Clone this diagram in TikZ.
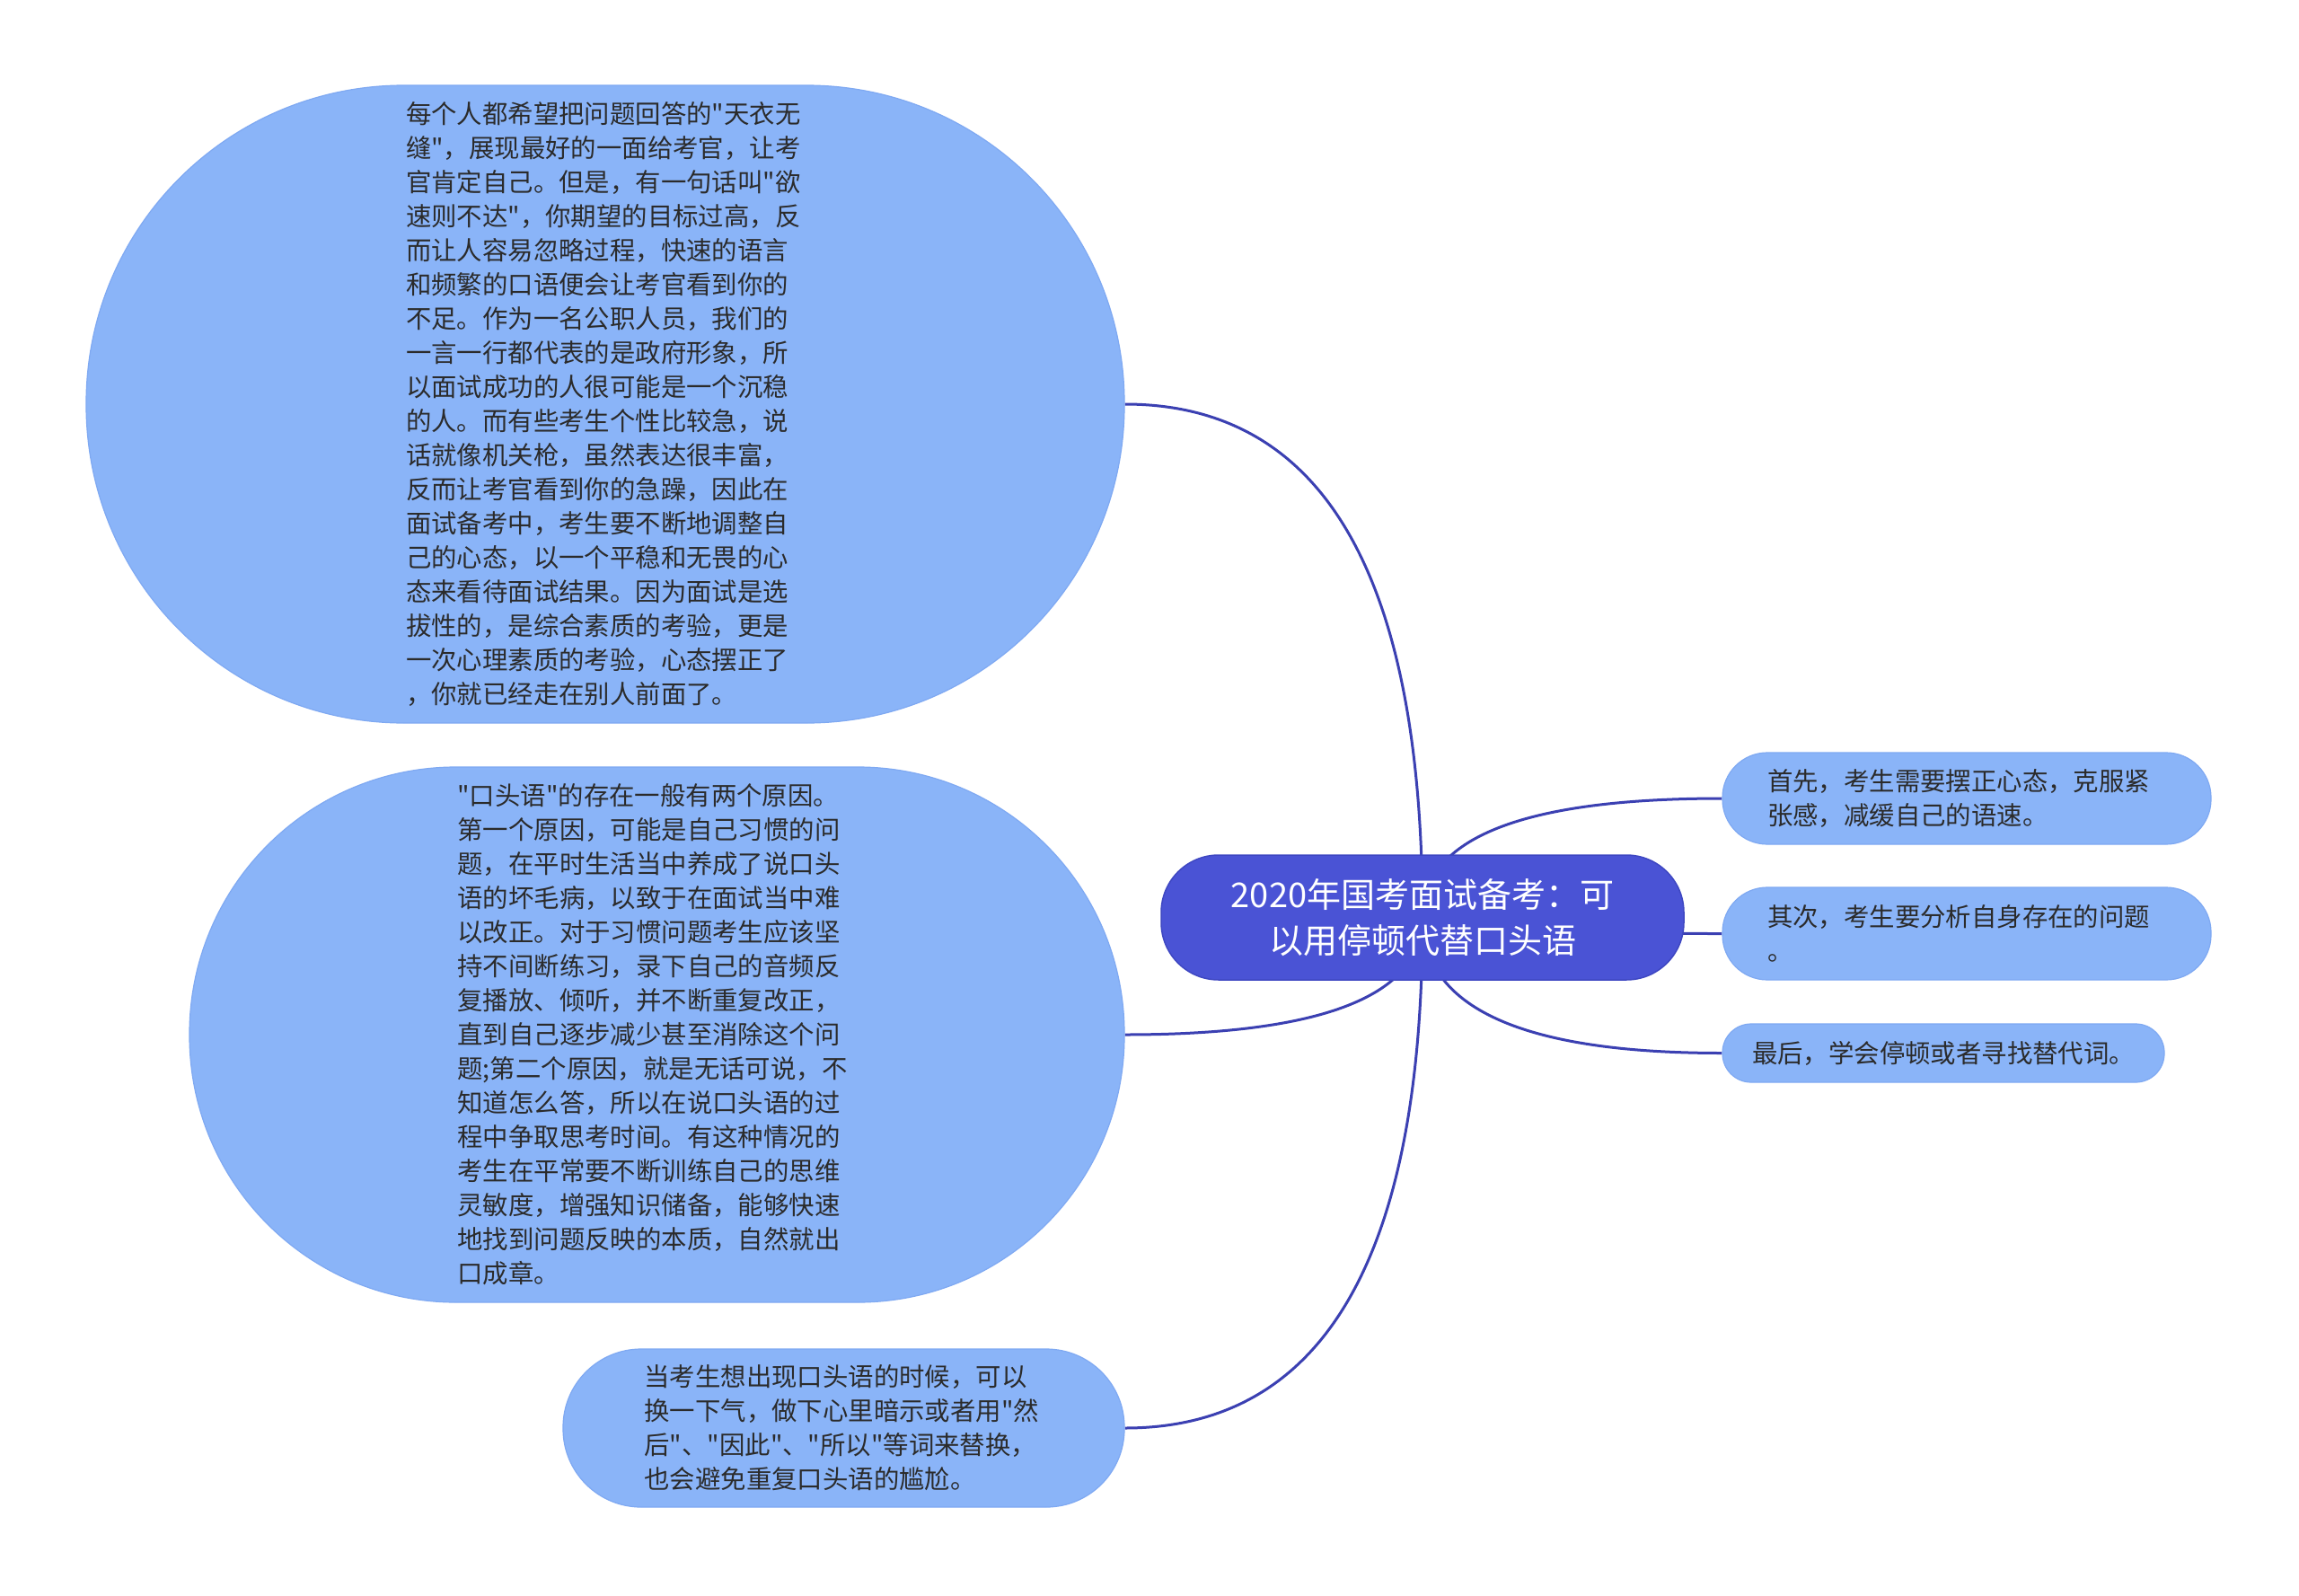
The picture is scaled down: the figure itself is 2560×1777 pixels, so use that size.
\documentclass[tikz,border=0pt]{standalone}
\usepackage{fontspec}
\newfontfamily\cjkfont{Noto Sans CJK SC}
\usetikzlibrary{calc,backgrounds}

\definecolor{rootblue}{HTML}{4A53D5}
\definecolor{rootedge}{HTML}{3E47C2}
\definecolor{leafblue}{HTML}{8AB4F8}
\definecolor{leafedge}{HTML}{7FA9F2}
\definecolor{linkblue}{HTML}{3B40B2}
\definecolor{inktext}{HTML}{2B2B2B}

\begin{document}
\begin{tikzpicture}[x=1pt,y=-1pt,
    leaf/.style={draw=leafedge, line width=1.2pt, fill=leafblue, text=inktext,
      inner sep=0pt, align=left, text width=444pt,
      font=\cjkfont\fontsize{28.4}{38}\selectfont},
    root/.style={draw=rootedge, line width=1.5pt, fill=rootblue, text=white,
      inner sep=0pt, align=center, minimum width=582pt, minimum height=139pt,
      rounded corners=64pt, font=\cjkfont\fontsize{38}{51}\selectfont},
    branch/.style={draw=linkblue, line width=3pt}]

    % --- Canvas ---
    \useasboundingbox (0,0) rectangle (2560,1777);

    % --- Central topic ---
    \node[root] (C) at (1584,1021.5) {2020年国考面试备考：可\\以用停顿代替口头语};

    % --- Left branches ---
    \node[leaf, minimum width=1156pt, minimum height=710pt, rounded corners=354pt]
      (L1) at (674,450) {每个人都希望把问题回答的"天衣无\\缝"，展现最好的一面给考官，让考\\官肯定自己。但是，有一句话叫"欲\\速则不达"，你期望的目标过高，反\\而让人容易忽略过程，快速的语言\\和频繁的口语便会让考官看到你的\\不足。作为一名公职人员，我们的\\一言一行都代表的是政府形象，所\\以面试成功的人很可能是一个沉稳\\的人。而有些考生个性比较急，说\\话就像机关枪，虽然表达很丰富，\\反而让考官看到你的急躁，因此在\\面试备考中，考生要不断地调整自\\己的心态，以一个平稳和无畏的心\\态来看待面试结果。因为面试是选\\拔性的，是综合素质的考验，更是\\一次心理素质的考验，心态摆正了\\，你就已经走在别人前面了。};
    \node[leaf, minimum width=1041pt, minimum height=596pt, rounded corners=297pt]
      (L2) at (731.5,1152) {"口头语"的存在一般有两个原因。\\第一个原因，可能是自己习惯的问\\题，在平时生活当中养成了说口头\\语的坏毛病，以致于在面试当中难\\以改正。对于习惯问题考生应该坚\\持不间断练习，录下自己的音频反\\复播放、倾听，并不断重复改正，\\直到自己逐步减少甚至消除这个问\\题;第二个原因，就是无话可说，不\\知道怎么答，所以在说口头语的过\\程中争取思考时间。有这种情况的\\考生在平常要不断训练自己的思维\\灵敏度，增强知识储备，能够快速\\地找到问题反映的本质，自然就出\\口成章。};
    \node[leaf, minimum width=625pt, minimum height=176pt, rounded corners=87pt]
      (L3) at (939.5,1590) {当考生想出现口头语的时候，可以\\换一下气，做下心里暗示或者用"然\\后"、"因此"、"所以"等词来替换，\\也会避免重复口头语的尴尬。};

    % --- Right branches ---
    \node[leaf, minimum width=544pt, minimum height=102pt, rounded corners=50pt]
      (R1) at (2190,889) {首先，考生需要摆正心态，克服紧\\张感，减缓自己的语速。};
    \node[leaf, minimum width=544pt, minimum height=103pt, rounded corners=50pt]
      (R2) at (2190,1039.5) {其次，考生要分析自身存在的问题\\。};
    \node[leaf, minimum width=492pt, minimum height=65pt, rounded corners=32pt,
      text width=426pt] (R3) at (2164,1172.5) {最后，学会停顿或者寻找替代词。};

    % --- Corner points of the branch curves ---
    \coordinate (k1) at (C.center |- L1.east);
    \coordinate (k2) at (C.center |- L2.east);
    \coordinate (k3) at (C.center |- L3.east);
    \coordinate (k4) at (C.center |- R1.west);
    \coordinate (k5) at (C.center |- R2.west);
    \coordinate (k6) at (C.center |- R3.west);

    % --- White page and branch curves, behind the nodes ---
    \begin{scope}[on background layer]
    \fill[white] (0,0) rectangle (2560,1777);
    \draw[branch] (C.center) .. controls ($(C.center)!2/3!(k1)$) and ($(L1.east)!2/3!(k1)$) .. (L1.east);
    \draw[branch] (C.center) .. controls ($(C.center)!2/3!(k2)$) and ($(L2.east)!2/3!(k2)$) .. (L2.east);
    \draw[branch] (C.center) .. controls ($(C.center)!2/3!(k3)$) and ($(L3.east)!2/3!(k3)$) .. (L3.east);
    \draw[branch] (C.center) .. controls ($(C.center)!2/3!(k4)$) and ($(R1.west)!2/3!(k4)$) .. (R1.west);
    \draw[branch] (C.center) .. controls ($(C.center)!2/3!(k5)$) and ($(R2.west)!2/3!(k5)$) .. (R2.west);
    \draw[branch] (C.center) .. controls ($(C.center)!2/3!(k6)$) and ($(R3.west)!2/3!(k6)$) .. (R3.west);
    \end{scope}

\end{tikzpicture}
\end{document}
